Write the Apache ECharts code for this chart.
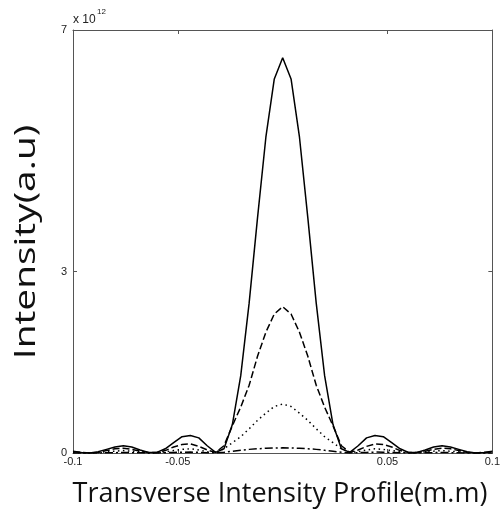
<!DOCTYPE html>
<html>
<head>
<meta charset="utf-8">
<script src="https://cdn.jsdelivr.net/npm/echarts@6/dist/echarts.min.js"></script>
<style>
  html, body { margin: 0; padding: 0; background: #fff; }
  #chart { width: 503px; height: 510px; }
</style>
</head>
<body>
<div id="chart"></div>
<script>
// positions across the beam (m.m)
var xs = [-0.1, -0.096, -0.092, -0.088, -0.084, -0.08, -0.076, -0.072, -0.068, -0.064,
  -0.06, -0.056, -0.052, -0.048, -0.044, -0.04, -0.036, -0.032, -0.028, -0.024,
  -0.02, -0.016, -0.012, -0.008, -0.004, 0,
  0.004, 0.008, 0.012, 0.016, 0.02, 0.024, 0.028, 0.032, 0.036, 0.04,
  0.044, 0.048, 0.052, 0.056, 0.06, 0.064, 0.068, 0.072, 0.076, 0.08,
  0.084, 0.088, 0.092, 0.096, 0.1];

// intensities, in units of 1e12 (a.u)
var solidVals = [0.03, 0.01, 0.00, 0.02, 0.06, 0.10, 0.12, 0.10, 0.05, 0.01,
  0.01, 0.07, 0.17, 0.27, 0.29, 0.25, 0.12, 0.01, 0.07, 0.47,
  1.28, 2.48, 3.89, 5.23, 6.19, 6.54,
  6.19, 5.23, 3.89, 2.48, 1.28, 0.47, 0.07, 0.01, 0.12, 0.25,
  0.29, 0.27, 0.17, 0.07, 0.01, 0.01, 0.05, 0.10, 0.12, 0.10,
  0.06, 0.02, 0.00, 0.01, 0.03];
var dashedVals = [0.02, 0.01, 0.00, 0.01, 0.04, 0.07, 0.08, 0.06, 0.03, 0.01,
  0.01, 0.04, 0.10, 0.14, 0.15, 0.11, 0.05, 0.01, 0.12, 0.45,
  0.76, 1.12, 1.60, 2.00, 2.30, 2.42,
  2.30, 2.00, 1.60, 1.12, 0.76, 0.45, 0.12, 0.01, 0.05, 0.11,
  0.15, 0.14, 0.10, 0.04, 0.01, 0.01, 0.03, 0.06, 0.08, 0.07,
  0.04, 0.01, 0.00, 0.01, 0.02];
var dottedVals = [0.01, 0.00, 0.00, 0.01, 0.02, 0.03, 0.04, 0.03, 0.02, 0.00,
  0.00, 0.02, 0.04, 0.06, 0.07, 0.05, 0.02, 0.01, 0.07, 0.17,
  0.27, 0.40, 0.54, 0.66, 0.77, 0.81,
  0.77, 0.66, 0.54, 0.40, 0.27, 0.17, 0.07, 0.01, 0.02, 0.05,
  0.07, 0.06, 0.04, 0.02, 0.00, 0.00, 0.02, 0.03, 0.04, 0.03,
  0.02, 0.01, 0.00, 0.00, 0.01];
var dashDotVals = [0.002, 0.001, 0.0, 0.001, 0.004, 0.006, 0.007, 0.006, 0.004, 0.001,
  0.001, 0.005, 0.01, 0.013, 0.015, 0.01, 0.005, 0.002, 0.012, 0.03,
  0.045, 0.06, 0.07, 0.078, 0.083, 0.085,
  0.083, 0.078, 0.07, 0.06, 0.045, 0.03, 0.012, 0.002, 0.005, 0.01,
  0.015, 0.013, 0.01, 0.005, 0.001, 0.001, 0.004, 0.006, 0.007, 0.006,
  0.004, 0.001, 0.0, 0.001, 0.002];

var xTicks = [-0.1, -0.05, 0.05, 0.1];
var yTicks = [0, 3, 7];

function pairs(vals) {
  return xs.map(function (x, i) { return [x, vals[i]]; });
}

var axisColor = "#555";
var labelFont = { fontFamily: "Liberation Sans", fontSize: 11, color: "#222" };

function xAxisCfg(pos, showLabel) {
  return {
    type: "value",
    position: pos,
    min: -0.1,
    max: 0.1,
    axisLine: { show: true, onZero: false, lineStyle: { color: axisColor, width: 1 } },
    axisTick: { show: true, inside: true, length: 4, customValues: xTicks, lineStyle: { color: axisColor } },
    axisLabel: Object.assign({ show: showLabel, margin: 3, customValues: xTicks }, labelFont),
    splitLine: { show: false },
  };
}

function yAxisCfg(pos, showLabel) {
  return {
    type: "value",
    position: pos,
    min: 0,
    max: 7,
    axisLine: { show: true, onZero: false, lineStyle: { color: axisColor, width: 1 } },
    axisTick: { show: true, inside: true, length: 4, customValues: yTicks, lineStyle: { color: axisColor } },
    axisLabel: Object.assign({ show: showLabel, margin: 6, customValues: yTicks }, labelFont),
    splitLine: { show: false },
  };
}

function lineSeries(vals, type, width) {
  return {
    type: "line",
    data: pairs(vals),
    showSymbol: false,
    symbol: "none",
    smooth: false,
    animation: false,
    lineStyle: { color: "#000", width: width, type: type },
  };
}

var chart = echarts.init(document.getElementById("chart"));
chart.setOption({
  animation: false,
  grid: { left: 73, right: 6, top: 30, bottom: 57, containLabel: false },
  xAxis: [xAxisCfg("bottom", true), xAxisCfg("top", false)],
  yAxis: [yAxisCfg("left", true), yAxisCfg("right", false)],
  series: [
    lineSeries(dashDotVals, [8, 3, 2, 3], 1.5),
    lineSeries(dottedVals, [1.5, 3.5], 1.5),
    lineSeries(dashedVals, [7, 3], 1.5),
    lineSeries(solidVals, "solid", 1.5),
  ],
  graphic: [
    {
      type: "text",
      left: 73,
      top: 14,
      style: { text: "x 10", fontFamily: "Liberation Sans", fontSize: 12, fill: "#222" },
    },
    {
      type: "text",
      left: 97,
      top: 8,
      style: { text: "12", fontFamily: "Liberation Sans", fontSize: 8, fill: "#222" },
    },
    {
      type: "text",
      x: 27,
      y: 242,
      rotation: Math.PI / 2,
      scaleX: 1.34,
      style: {
        text: "Intensity(a.u)",
        fontFamily: "Open Sans",
        fontSize: 29,
        fill: "#111",
        align: "center",
        verticalAlign: "middle",
      },
    },
    {
      type: "text",
      x: 280,
      y: 494,
      style: {
        text: "Transverse Intensity Profile(m.m)",
        fontFamily: "Open Sans",
        fontSize: 27,
        fill: "#111",
        align: "center",
        verticalAlign: "middle",
      },
    },
  ],
});
</script>
</body>
</html>
